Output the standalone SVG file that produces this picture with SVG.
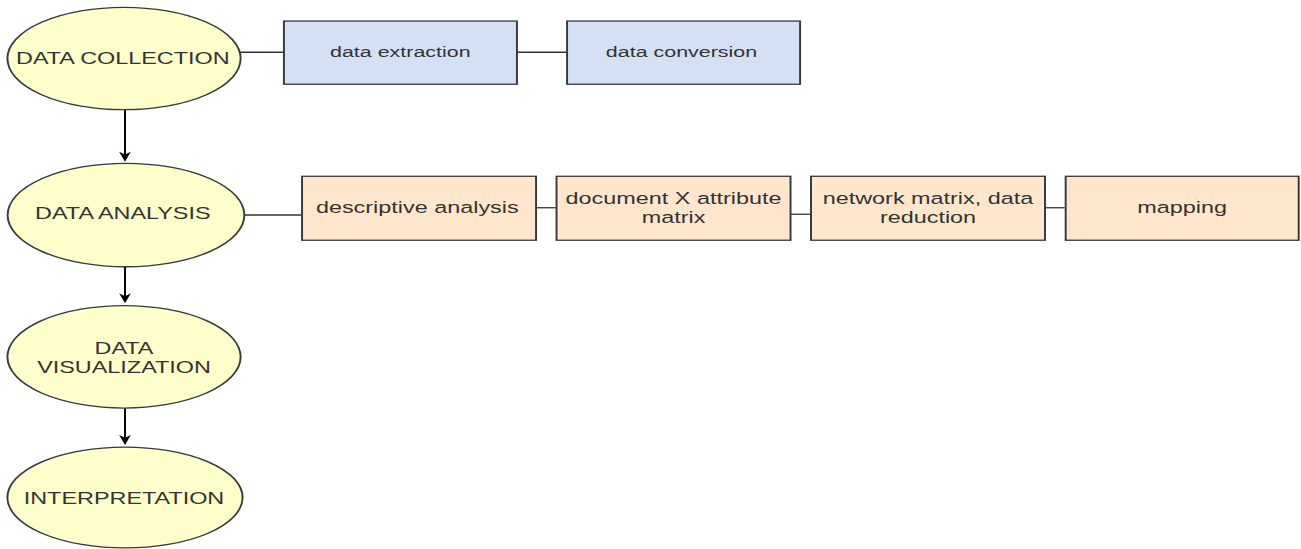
<svg xmlns="http://www.w3.org/2000/svg" width="1301" height="549" viewBox="0 0 1301 549">
  <defs>
    <style>
      .stage { fill: #ffffcc; stroke: #36393d; stroke-width: 1; }
      .step-blue { fill: #d4e1f5; stroke: #36393d; stroke-width: 1; }
      .step-orange { fill: #ffe6cc; stroke: #36393d; stroke-width: 1; }
      .edge { fill: none; stroke: #333333; stroke-width: 1; }
      .flow { fill: none; stroke: #000000; stroke-width: 1; marker-end: url(#arrow); }
      text { font-family: "Liberation Sans", Arial, Helvetica, sans-serif; fill: #333333; text-anchor: middle; }
      .t12 { font-size: 12px; }
      .t11 { font-size: 11px; }
    </style>
    <marker id="arrow" markerUnits="userSpaceOnUse" orient="auto" refX="-5" refY="0" markerWidth="12" markerHeight="8" viewBox="-9 -4 12 8" overflow="visible">
      <path d="M0,0 L-7.7,-3 L-5.5,0 L-7.7,3 Z" fill="#000000"/>
    </marker>
  </defs>
  <rect width="1301" height="549" fill="#ffffff"/>

  <!-- drawing units are stretched to the page: 1.95 across, 1.3 down -->
  <g transform="scale(1.95,1.3)">
    <g id="connectors">
      <!-- stage flow -->
      <path class="flow" d="M64.1,84.6 L64.1,119.4"/>
      <path class="flow" d="M64.1,205.4 L64.1,228.3"/>
      <path class="flow" d="M64.1,314.1 L64.1,337.3"/>
      <!-- collection steps -->
      <path class="edge" d="M123.2,40.2 L145.1,40.2"/>
      <path class="edge" d="M265.1,40.2 L290.3,40.2"/>
      <!-- analysis steps -->
      <path class="edge" d="M125.6,165.4 L154.4,165.4"/>
      <path class="edge" d="M275.2,159.8 L285,159.8"/>
      <path class="edge" d="M405.6,164.8 L415.4,164.8"/>
      <path class="edge" d="M536.3,159.8 L546,159.8"/>
    </g>

    <g id="data-collection">
      <ellipse class="stage" cx="63.6" cy="45" rx="59.8" ry="39.4"/>
      <text class="t12" x="63" y="49.2">DATA COLLECTION</text>
    </g>
    <g id="data-analysis">
      <ellipse class="stage" cx="64.6" cy="165.4" rx="60.7" ry="39.8"/>
      <text class="t12" x="63" y="168.2">DATA ANALYSIS</text>
    </g>
    <g id="data-visualization">
      <ellipse class="stage" cx="63.6" cy="274.5" rx="59.8" ry="39.4"/>
      <text class="t12" x="63.6" y="272">DATA</text>
      <text class="t12" x="63.6" y="286.6">VISUALIZATION</text>
    </g>
    <g id="interpretation">
      <ellipse class="stage" cx="64.1" cy="382.7" rx="60.3" ry="38.8"/>
      <text class="t12" x="63.6" y="387.6">INTERPRETATION</text>
    </g>

    <g id="data-extraction">
      <rect class="step-blue" x="145.6" y="16.2" width="119.5" height="48.6"/>
      <text class="t11" x="205.3" y="44.2">data extraction</text>
    </g>
    <g id="data-conversion">
      <rect class="step-blue" x="290.8" y="16.2" width="119.5" height="48.6"/>
      <text class="t11" x="349.5" y="44.2">data conversion</text>
    </g>

    <g id="descriptive-analysis">
      <rect class="step-orange" x="154.9" y="135.6" width="120" height="49.2"/>
      <text class="t12" x="214" y="164.1">descriptive analysis</text>
    </g>
    <g id="document-attribute-matrix">
      <rect class="step-orange" x="285.4" y="135.6" width="120" height="49.2"/>
      <text class="t12" x="345.4" y="156.6">document X attribute</text>
      <text class="t12" x="345.4" y="171.2">matrix</text>
    </g>
    <g id="network-matrix">
      <rect class="step-orange" x="415.9" y="135.6" width="120" height="49.2"/>
      <text class="t12" x="475.9" y="156.6">network matrix, data</text>
      <text class="t12" x="475.9" y="171.2">reduction</text>
    </g>
    <g id="mapping">
      <rect class="step-orange" x="546.5" y="135.6" width="119.5" height="49.2"/>
      <text class="t12" x="606.2" y="164.1">mapping</text>
    </g>
  </g>
</svg>
